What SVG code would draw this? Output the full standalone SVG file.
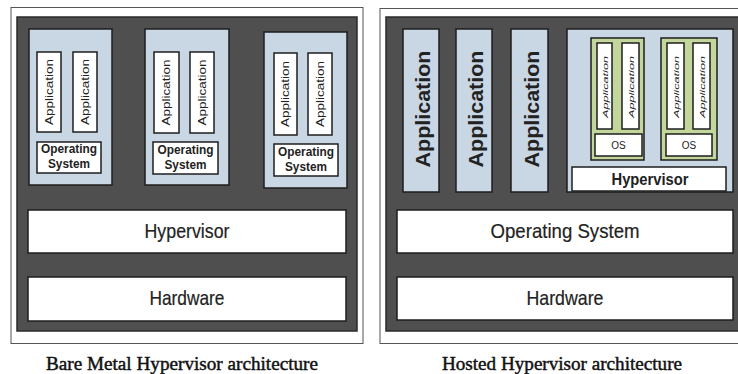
<svg xmlns="http://www.w3.org/2000/svg" width="738" height="374" viewBox="0 0 738 374">
  <style>
    .frame { fill: #ffffff; stroke: #555555; stroke-width: 1; }
    .dark { fill: #4f4f4f; stroke: #2a2a2a; stroke-width: 1.5; }
    .vm { fill: #c9d6e4; stroke: #1e1e1e; stroke-width: 1.5; }
    .guest { fill: #c3d69b; stroke: #1e1e1e; stroke-width: 1.5; }
    .box { fill: #ffffff; stroke: #1e1e1e; stroke-width: 1.5; }
    .txt { font-family: "Liberation Sans", Arial, sans-serif; fill: #222222; text-anchor: middle; }
    .app-s { font-size: 10px; }
    .app-xs { font-size: 8px; font-style: italic; }
    .app-l { font-size: 20px; font-weight: bold; }
    .os-s { font-size: 12px; font-weight: bold; }
    .layer { font-size: 21px; stroke: #222222; stroke-width: 0.2; }
    .cap { font-family: "Liberation Serif", "Times New Roman", serif; font-size: 19px; fill: #111111; text-anchor: middle; stroke: #111111; stroke-width: 0.45; }
  </style>

  <!-- Bare metal hypervisor panel -->
  <g id="bare-metal">
    <rect class="frame" x="11" y="7.5" width="352" height="336"/>
    <rect class="dark" x="17" y="17" width="340" height="314"/>

    <g id="bm-vm1">
      <rect class="vm" x="29" y="29" width="83" height="156"/>
      <rect class="box" x="37" y="52" width="24" height="80"/>
      <text class="txt app-s" transform="translate(52.5,92) rotate(-90)" textLength="66" lengthAdjust="spacingAndGlyphs">Application</text>
      <rect class="box" x="73" y="52" width="24" height="80"/>
      <text class="txt app-s" transform="translate(88.5,92) rotate(-90)" textLength="66" lengthAdjust="spacingAndGlyphs">Application</text>
      <rect class="box" x="37" y="142" width="64" height="31"/>
      <text class="txt os-s" x="69" y="153" textLength="56" lengthAdjust="spacingAndGlyphs">Operating</text>
      <text class="txt os-s" x="69" y="168" textLength="42" lengthAdjust="spacingAndGlyphs">System</text>
    </g>

    <g id="bm-vm2">
      <rect class="vm" x="145" y="29" width="84" height="156"/>
      <rect class="box" x="154" y="52" width="25" height="81"/>
      <text class="txt app-s" transform="translate(170,92.5) rotate(-90)" textLength="66" lengthAdjust="spacingAndGlyphs">Application</text>
      <rect class="box" x="190" y="52" width="24" height="81"/>
      <text class="txt app-s" transform="translate(205.5,92.5) rotate(-90)" textLength="66" lengthAdjust="spacingAndGlyphs">Application</text>
      <rect class="box" x="153" y="142" width="65" height="32"/>
      <text class="txt os-s" x="185.5" y="153.5" textLength="56" lengthAdjust="spacingAndGlyphs">Operating</text>
      <text class="txt os-s" x="185.5" y="168.5" textLength="42" lengthAdjust="spacingAndGlyphs">System</text>
    </g>

    <g id="bm-vm3">
      <rect class="vm" x="264" y="32" width="83" height="156"/>
      <rect class="box" x="274" y="53" width="23" height="82"/>
      <text class="txt app-s" transform="translate(289,94) rotate(-90)" textLength="66" lengthAdjust="spacingAndGlyphs">Application</text>
      <rect class="box" x="308" y="53" width="24" height="82"/>
      <text class="txt app-s" transform="translate(323.5,94) rotate(-90)" textLength="66" lengthAdjust="spacingAndGlyphs">Application</text>
      <rect class="box" x="274" y="144" width="64" height="32"/>
      <text class="txt os-s" x="306" y="155.5" textLength="56" lengthAdjust="spacingAndGlyphs">Operating</text>
      <text class="txt os-s" x="306" y="170.5" textLength="42" lengthAdjust="spacingAndGlyphs">System</text>
    </g>

    <g id="bm-hypervisor">
      <rect class="box" x="28" y="210" width="318" height="43"/>
      <text class="txt layer" x="187" y="238" textLength="85" lengthAdjust="spacingAndGlyphs">Hypervisor</text>
    </g>

    <g id="bm-hardware">
      <rect class="box" x="28" y="277" width="318" height="44"/>
      <text class="txt layer" x="187" y="305" textLength="75" lengthAdjust="spacingAndGlyphs">Hardware</text>
    </g>

    <text class="cap" x="182" y="370" textLength="272" lengthAdjust="spacingAndGlyphs">Bare Metal Hypervisor architecture</text>
  </g>

  <!-- Hosted hypervisor panel -->
  <g id="hosted">
    <rect class="frame" x="380" y="8.5" width="370" height="335"/>
    <rect class="dark" x="386" y="17" width="360" height="314"/>

    <g id="host-app1">
      <rect class="vm" x="403" y="29" width="36" height="163"/>
      <text class="txt app-l" transform="translate(430,109) rotate(-90)" textLength="117" lengthAdjust="spacingAndGlyphs">Application</text>
    </g>
    <g id="host-app2">
      <rect class="vm" x="456" y="29" width="36" height="163"/>
      <text class="txt app-l" transform="translate(483,109) rotate(-90)" textLength="117" lengthAdjust="spacingAndGlyphs">Application</text>
    </g>
    <g id="host-app3">
      <rect class="vm" x="511" y="29" width="37" height="163"/>
      <text class="txt app-l" transform="translate(538.5,109) rotate(-90)" textLength="117" lengthAdjust="spacingAndGlyphs">Application</text>
    </g>

    <g id="host-vms">
      <rect class="vm" x="567" y="29" width="166" height="163"/>

      <g id="guest-a">
        <rect class="guest" x="591" y="38" width="53" height="122"/>
        <rect class="box" x="597" y="43" width="15" height="86"/>
        <text class="txt app-xs" transform="translate(607.5,87) rotate(-90)" textLength="62" lengthAdjust="spacingAndGlyphs">Application</text>
        <rect class="box" x="622" y="43" width="17" height="86"/>
        <text class="txt app-xs" transform="translate(633.5,87) rotate(-90)" textLength="62" lengthAdjust="spacingAndGlyphs">Application</text>
        <rect class="box" x="595" y="134" width="47" height="22"/>
        <text class="txt" x="618.5" y="149" font-size="10">OS</text>
      </g>

      <g id="guest-b">
        <rect class="guest" x="661" y="38" width="56" height="122"/>
        <rect class="box" x="667" y="43" width="17" height="86"/>
        <text class="txt app-xs" transform="translate(678.5,87) rotate(-90)" textLength="62" lengthAdjust="spacingAndGlyphs">Application</text>
        <rect class="box" x="693" y="43" width="17" height="86"/>
        <text class="txt app-xs" transform="translate(704.5,87) rotate(-90)" textLength="62" lengthAdjust="spacingAndGlyphs">Application</text>
        <rect class="box" x="666" y="134" width="46" height="22"/>
        <text class="txt" x="689" y="149" font-size="10">OS</text>
      </g>

      <g id="host-hypervisor">
        <rect class="box" x="572" y="167" width="154" height="24"/>
        <text class="txt" x="650" y="185" font-size="16" font-weight="bold" textLength="77" lengthAdjust="spacingAndGlyphs">Hypervisor</text>
      </g>
    </g>

    <g id="host-os">
      <rect class="box" x="397" y="210" width="336" height="43"/>
      <text class="txt layer" x="565" y="238" textLength="149" lengthAdjust="spacingAndGlyphs">Operating System</text>
    </g>

    <g id="host-hardware">
      <rect class="box" x="397" y="277" width="336" height="43"/>
      <text class="txt layer" x="565" y="305" textLength="77" lengthAdjust="spacingAndGlyphs">Hardware</text>
    </g>

    <text class="cap" x="562" y="370" textLength="240" lengthAdjust="spacingAndGlyphs">Hosted Hypervisor architecture</text>
  </g>

  <!-- stacked layers; no connectors are drawn -->
  <g id="connectors"/>
</svg>
